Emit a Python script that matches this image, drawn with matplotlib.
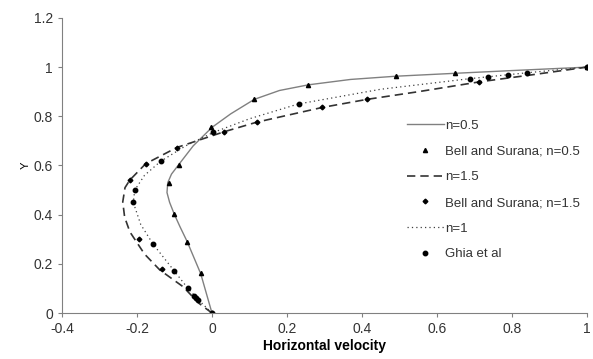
import matplotlib
matplotlib.use('Agg')
from matplotlib import pyplot as plt

plt.rcParams['font.family'] = ['Liberation Sans', 'DejaVu Sans']

# simulated profiles (u, y)
u_n05 = [0, -0.015, -0.03, -0.048, -0.066, -0.085, -0.10, -0.113, -0.12, -0.118, -0.108,
         -0.088, -0.05, 0.0, 0.05, 0.113, 0.18, 0.257, 0.37, 0.49, 0.65, 0.8, 1.0]
y_n05 = [0, 0.08, 0.16, 0.225, 0.29, 0.35, 0.40, 0.45, 0.49, 0.53, 0.565,
         0.605, 0.68, 0.755, 0.81, 0.869, 0.905, 0.928, 0.95, 0.963, 0.975, 0.986, 1.0]

u_n15 = [0, -0.035, -0.077, -0.139, -0.18, -0.219, -0.233, -0.238, -0.232, -0.219, -0.177,
         -0.094, 0.032, 0.119, 0.294, 0.414, 0.55, 0.713, 0.85, 1.0]
y_n15 = [0, 0.04, 0.107, 0.175, 0.24, 0.33, 0.39, 0.452, 0.51, 0.541, 0.607,
         0.673, 0.737, 0.776, 0.836, 0.869, 0.9, 0.94, 0.968, 1.0]

u_n1 = [0, -0.037, -0.064, -0.10, -0.157, -0.19, -0.21, -0.206, -0.18, -0.137, -0.07,
        0.003, 0.1, 0.23, 0.45, 0.687, 0.84, 1.0]
y_n1 = [0, 0.055, 0.10, 0.17, 0.28, 0.36, 0.45, 0.50, 0.56, 0.617, 0.68,
        0.734, 0.79, 0.85, 0.91, 0.953, 0.977, 1.0]

# Bell and Surana; n=0.5
u_bs05 = [0, -0.03, -0.066, -0.101, -0.114, -0.088, -0.003, 0.113, 0.257, 0.492, 0.648, 1.0]
y_bs05 = [0, 0.161, 0.29, 0.402, 0.527, 0.604, 0.755, 0.869, 0.928, 0.963, 0.975, 1.0]

# Bell and Surana; n=1.5
u_bs15 = [0, -0.045, -0.134, -0.194, -0.219, -0.177, -0.094, 0.032, 0.119, 0.294, 0.414, 0.713, 1.0]
y_bs15 = [0, 0.065, 0.181, 0.302, 0.541, 0.607, 0.673, 0.737, 0.776, 0.836, 0.869, 0.94, 1.0]

# Ghia et al
u_ghia = [1.0, 0.84123, 0.78871, 0.73722, 0.68717, 0.23151, 0.00332, -0.13641, -0.20581,
          -0.2109, -0.15662, -0.1015, -0.06434, -0.04775, -0.04192, -0.03717, 0.0]
y_ghia = [1.0, 0.9766, 0.9688, 0.9609, 0.9531, 0.8516, 0.7344, 0.6172, 0.5,
          0.4531, 0.2813, 0.1719, 0.1016, 0.0703, 0.0625, 0.0547, 0.0]

xticks = [-0.4, -0.2, 0, 0.2, 0.4, 0.6, 0.8, 1]
yticks = [0, 0.2, 0.4, 0.6, 0.8, 1, 1.2]


def main():
    fig = plt.figure(figsize=(5.93, 3.59), dpi=100)
    ax = fig.add_axes([0.1046, 0.128, 0.885, 0.822])

    ax.plot(u_n05, y_n05, color='#808080', lw=1.0, label='n=0.5')
    ax.plot(u_bs05, y_bs05, ls='none', marker='^', ms=3.0, color='black',
            label='Bell and Surana; n=0.5')
    ax.plot(u_n15, y_n15, color='#333333', lw=1.2, ls=(0, (5, 3)), label='n=1.5')
    ax.plot(u_bs15, y_bs15, ls='none', marker='D', ms=2.4, color='black',
            label='Bell and Surana; n=1.5')
    ax.plot(u_n1, y_n1, color='#404040', lw=0.9, ls=(0, (1, 2.5)), label='n=1')
    ax.plot(u_ghia, y_ghia, ls='none', marker='o', ms=3.2, color='black',
            label='Ghia et al')

    ax.set_xlim(-0.4, 1)
    ax.set_ylim(0, 1.2)
    ax.set_xticks(xticks)
    ax.set_xticklabels([f'{t:g}' for t in xticks])
    ax.set_yticks(yticks)
    ax.set_yticklabels([f'{t:g}' for t in yticks])
    ax.tick_params(direction='out', length=3, width=0.8, color='#808080',
                   labelsize=10, labelcolor='#333333')
    for s in ['top', 'right']:
        ax.spines[s].set_visible(False)
    for s in ['left', 'bottom']:
        ax.spines[s].set_color('#808080')
        ax.spines[s].set_linewidth(0.8)

    ax.set_xlabel('Horizontal velocity', fontsize=10, fontweight='bold', labelpad=2)
    ax.set_ylabel('Y', fontsize=8, labelpad=2)

    leg = ax.legend(loc='upper left', bbox_to_anchor=(0.657, 0.655), frameon=False,
                    fontsize=9.5, handlelength=2.8, handletextpad=0.1, labelspacing=1.02,
                    borderpad=0, borderaxespad=0)
    for t in leg.get_texts():
        t.set_color('#333333')

    fig.savefig('out.png', dpi=100)


if __name__ in '__main__':
    main()
